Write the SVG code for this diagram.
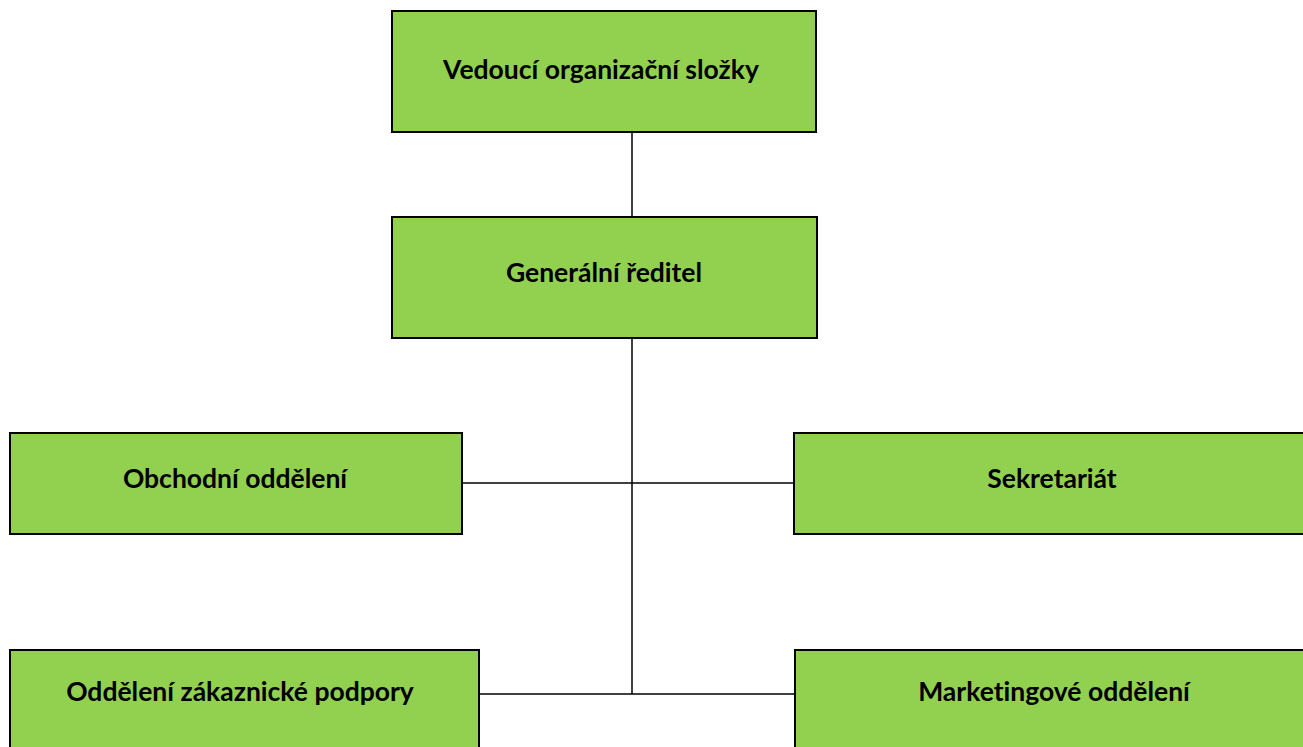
<svg xmlns="http://www.w3.org/2000/svg" width="1303" height="747" viewBox="0 0 1303 747">
<style>
.box{fill:#92D050;stroke:#000;stroke-width:2}
.lbl{font-family:Lato,"Liberation Sans",sans-serif;font-weight:bold;font-size:26.5px;fill:#000;text-anchor:middle;font-variant-ligatures:none;font-feature-settings:"liga" 0,"dlig" 0}
.con{stroke:#000;stroke-width:1.5;fill:none}
</style>
<rect width="1303" height="747" fill="#fff"/>
<g id="connectors">
<line class="con" x1="632" y1="132" x2="632" y2="217"/>
<line class="con" x1="632" y1="338" x2="632" y2="694"/>
<line class="con" x1="462" y1="483" x2="794" y2="483"/>
<line class="con" x1="479" y1="694" x2="795" y2="694"/>
</g>
<g id="n1"><rect class="box" x="392" y="11" width="424" height="121"/><text class="lbl" x="601" y="79">Vedoucí organizační složky</text></g>
<g id="n2"><rect class="box" x="392" y="217" width="425" height="121"/><text class="lbl" x="604" y="282">Generální ředitel</text></g>
<g id="n3"><rect class="box" x="10" y="433" width="452" height="101"/><text class="lbl" x="235" y="488">Obchodní oddělení</text></g>
<g id="n4"><rect class="box" x="794" y="433" width="520" height="101"/><text class="lbl" x="1052" y="488">Sekretariát</text></g>
<g id="n5"><rect class="box" x="10" y="650" width="469" height="110"/><text class="lbl" x="240" y="701">Oddělení zákaznické podpory</text></g>
<g id="n6"><rect class="box" x="795" y="650" width="520" height="110"/><text class="lbl" x="1054" y="701">Marketingové oddělení</text></g>
</svg>
